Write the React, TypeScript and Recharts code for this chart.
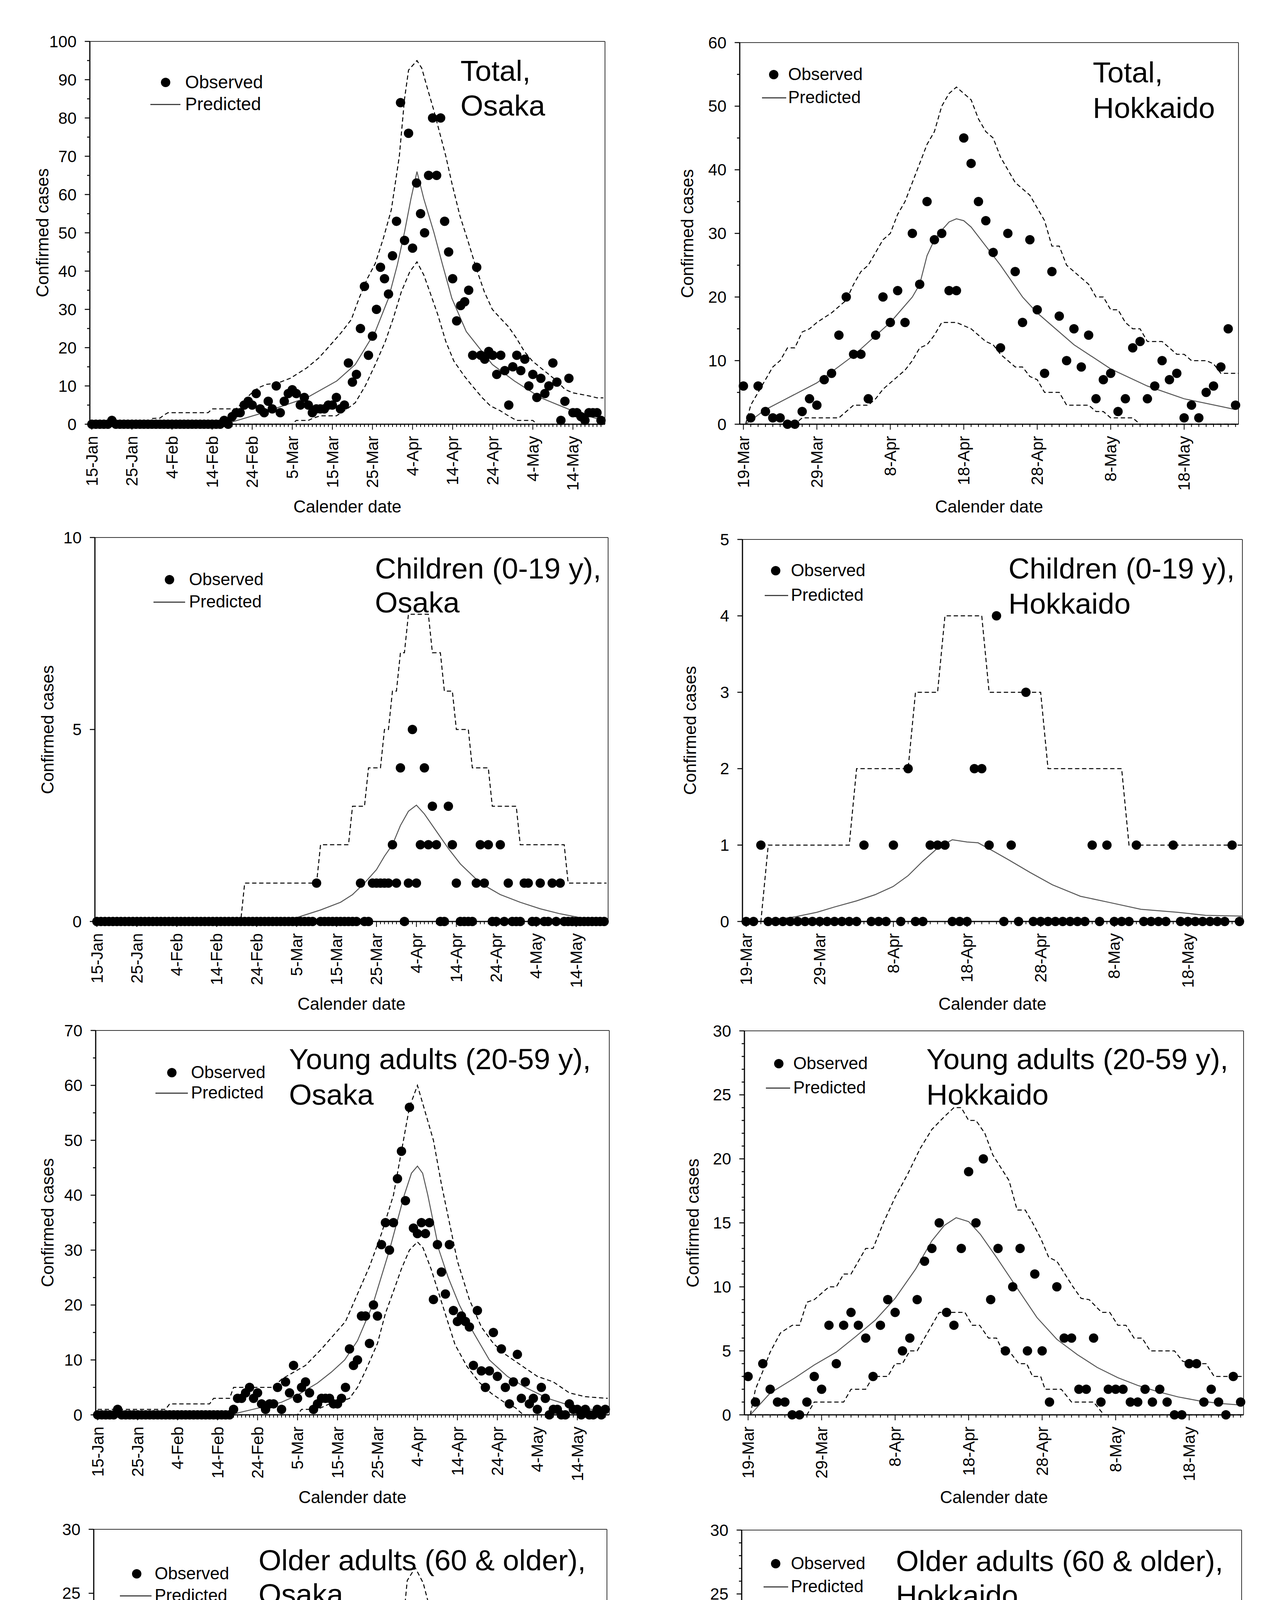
import React from 'react';
import { ComposedChart, Line, Scatter, XAxis, YAxis, ReferenceLine } from 'recharts';

const FONT = '"Liberation Sans", Arial, Helvetica, sans-serif';

type Pt = [number, number];

// ---- tick labels ----
const osakaDates = ['15-Jan', '25-Jan', '4-Feb', '14-Feb', '24-Feb', '5-Mar', '15-Mar', '25-Mar', '4-Apr', '14-Apr', '24-Apr', '4-May', '14-May'];
const hokkaidoDates = ['19-Mar', '29-Mar', '8-Apr', '18-Apr', '28-Apr', '8-May', '18-May'];

// ---- Osaka observed (one value per day from 15-Jan) ----
const osakaTotalObs = [
  0, 0, 0, 0, 0, 1, 0, 0, 0, 0,
  0, 0, 0, 0, 0, 0, 0, 0, 0, 0,
  0, 0, 0, 0, 0, 0, 0, 0, 0, 0,
  0, 0, 0, 1, 0, 2, 3, 3, 5, 6,
  5, 8, 4, 3, 6, 4, 10, 3, 6, 8,
  9, 8, 5, 7, 5, 3, 4, 4, 4, 5,
  5, 7, 4, 5, 16, 11, 13, 25, 36, 18,
  23, 30, 41, 38, 34, 44, 53, 84, 48, 76,
  46, 63, 55, 50, 65, 80, 65, 80, 53, 45,
  38, 27, 31, 32, 35, 18, 41, 18, 17, 19,
  18, 13, 18, 14, 5, 15, 18, 14, 17, 10,
  13, 7, 12, 8, 10, 16, 11, 1, 6, 12,
  3, 3, 2, 1, 3, 3, 3, 1,
];
const osakaChildObs = [
  0, 0, 0, 0, 0, 0, 0, 0, 0, 0,
  0, 0, 0, 0, 0, 0, 0, 0, 0, 0,
  0, 0, 0, 0, 0, 0, 0, 0, 0, 0,
  0, 0, 0, 0, 0, 0, 0, 0, 0, 0,
  0, 0, 0, 0, 0, 0, 0, 0, 0, 0,
  0, 0, 0, 0, 0, 1, 0, 0, 0, 0,
  0, 0, 0, 0, 0, 0, 1, 0, 0, 1,
  1, 1, 1, 1, 2, 1, 4, 0, 1, 5,
  1, 2, 4, 2, 3, 2, 0, 0, 3, 2,
  1, 0, 0, 0, 0, 1, 2, 1, 2, 0,
  0, 2, 0, 1, 0, 0, 0, 1, 1, 0,
  0, 1, 0, 0, 1, 0, 1, 0, 0, 0,
  0, 0, 0, 0, 0, 0, 0, 0,
];
const osakaYoungObs = [
  0, 0, 0, 0, 0, 1, 0, 0, 0, 0,
  0, 0, 0, 0, 0, 0, 0, 0, 0, 0,
  0, 0, 0, 0, 0, 0, 0, 0, 0, 0,
  0, 0, 0, 0, 1, 3, 3, 4, 5, 3,
  4, 2, 1, 2, 2, 5, 1, 6, 4, 9,
  3, 5, 6, 4, 1, 2, 3, 3, 3, 2,
  2, 3, 5, 12, 9, 10, 18, 18, 13, 20,
  18, 31, 35, 30, 35, 43, 48, 39, 56, 34,
  33, 35, 33, 35, 21, 31, 26, 22, 31, 19,
  17, 18, 17, 16, 9, 19, 8, 5, 8, 15,
  7, 12, 5, 2, 6, 11, 3, 6, 2, 3,
  1, 5, 3, 0, 1, 1, 0, 0, 2, 1,
  1, 0, 1, 0, 0, 1, 0, 1,
];
const osakaOldObs = [
  0, 0, 0, 0, 0, 0, 0, 0, 0, 0,
  0, 0, 0, 0, 0, 0, 0, 0, 0, 0,
  0, 0, 0, 0, 0, 0, 0, 0, 0, 0,
  0, 0, 1, 0, 0, 0, 0, 0, 1, 0,
  3, 1, 0, 1, 2, 1, 1, 0, 4, 0,
  5, 0, 1, 1, 2, 1, 1, 1, 2, 2,
  5, 1, 0, 0, 2, 3, 0, 4, 4, 2,
  11, 6, 6, 4, 6, 8, 9, 17, 17, 8,
  18, 14, 8, 18, 13, 19, 19, 8, 8, 9,
  7, 12, 13, 12, 4, 9, 4, 10, 7, 3,
  4, 1, 2, 1, 6, 5, 3, 5, 2, 0,
  0, 2, 0, 1, 1, 0, 1, 0, 4, 1,
  1, 1, 0, 1, 0, 1, 0, 0,
];

// ---- Hokkaido observed (one value per day from 19-Mar) ----
const hokTotalObs = [
  6, 1, 6, 2, 1, 1, 0, 0, 2, 4,
  3, 7, 8, 14, 20, 11, 11, 4, 14, 20,
  16, 21, 16, 30, 22, 35, 29, 30, 21, 21,
  45, 41, 35, 32, 27, 12, 30, 24, 16, 29,
  18, 8, 24, 17, 10, 15, 9, 14, 4, 7,
  8, 2, 4, 12, 13, 4, 6, 10, 7, 8,
  1, 3, 1, 5, 6, 9, 15, 3,
];
const hokChildObs = [
  0, 0, 1, 0, 0, 0, 0, 0, 0, 0,
  0, 0, 0, 0, 0, 0, 1, 0, 0, 0,
  1, 0, 2, 0, 0, 1, 1, 1, 0, 0,
  0, 2, 2, 1, 4, 0, 1, 0, 3, 0,
  0, 0, 0, 0, 0, 0, 0, 1, 0, 1,
  0, 0, 0, 1, 0, 0, 0, 0, 1, 0,
  0, 0, 0, 0, 0, 0, 1, 0,
];
const hokYoungObs = [
  3, 1, 4, 2, 1, 1, 0, 0, 1, 3,
  2, 7, 4, 7, 8, 7, 6, 3, 7, 9,
  8, 5, 6, 9, 12, 13, 15, 8, 7, 13,
  19, 15, 20, 9, 13, 5, 10, 13, 5, 11,
  5, 1, 10, 6, 6, 2, 2, 6, 1, 2,
  2, 2, 1, 1, 2, 1, 2, 1, 0, 0,
  4, 4, 1, 2, 1, 0, 3, 1,
];
const hokOldObs = [
  3, 0, 1, 0, 0, 0, 0, 0, 1, 1,
  1, 0, 4, 4, 3, 4, 1, 0, 5, 6,
  3, 5, 4, 12, 6, 18, 11, 17, 13, 6,
  14, 5, 8, 11, 8, 7, 14, 8, 8, 18,
  13, 7, 10, 11, 4, 10, 7, 7, 3, 3,
  3, 0, 1, 5, 1, 3, 1, 2, 1, 2,
  1, 1, 1, 2, 7, 1, 2, 1,
];

// ---- predicted and bounds: [day, value] ----
const osakaTotalPred: Pt[] = [[33, 0], [41.5, 2.6], [53.6, 6.9], [61.1, 11.3], [65.7, 15.6], [70.7, 24.2], [74, 32.9], [76.2, 41.6], [78, 50.2], [79.6, 58.9], [81.1, 66], [82.8, 58.9], [85.3, 50.2], [87.5, 41.6], [89.8, 32.9], [93.4, 24.2], [99.9, 15.6], [105.4, 11.3], [112, 6.9], [122, 2.6], [127, 1.2]];
const osakaTotalUpper: Pt[] = [[0, 0], [14, 0], [15, 1.5], [17, 1.6], [18, 2.4], [19, 3], [29, 3], [30, 4], [36, 4], [37.5, 5.6], [39.5, 7.8], [41.5, 9.5], [43.5, 10.4], [46.5, 10.8], [49.5, 12], [53.6, 14.7], [56.6, 17.3], [59.6, 20.8], [62.1, 23.8], [64.7, 27.3], [66.7, 33], [68.7, 38], [70.7, 42], [72.7, 48.5], [74.7, 56], [76.7, 70], [78, 85], [79, 92.5], [81.1, 95], [82.3, 93], [83.8, 87.4], [85.3, 82], [86.8, 76], [88.3, 70], [89.8, 63], [91.8, 54.5], [93.9, 47.6], [95.9, 40.7], [97.9, 34.6], [99.9, 30], [101.9, 27.7], [103.9, 25.5], [105.9, 22.5], [107.9, 19], [109.9, 16.5], [112, 14.7], [114, 13], [116, 11.3], [118, 9.1], [120, 8.2], [122, 7.8], [124, 7.4], [126, 6.9], [127.6, 6.9]];
const osakaTotalLower: Pt[] = [[0, 0], [50, 0], [51, 1], [54, 1], [55, 1.5], [57, 2.2], [61, 2.2], [63, 3.5], [65.7, 5.6], [68.2, 10], [70.7, 15.6], [73.2, 21.6], [75.2, 27.7], [77.2, 34.6], [79.3, 39.8], [81.1, 42.4], [82.8, 39], [84.3, 34.6], [86.3, 28.6], [88.3, 21.6], [90.3, 16.5], [92.9, 12.6], [94.9, 10], [97.4, 6.9], [99.4, 4.8], [101.9, 3.5], [103.9, 2.2], [105.9, 1], [110, 1], [111, 0], [127.6, 0]];

const osakaChildPred: Pt[] = [[45, 0], [50, 0.1], [56, 0.3], [61, 0.5], [64, 0.7], [67, 1.0], [70, 1.35], [72, 1.7], [74, 2.0], [76, 2.5], [78, 2.87], [80, 3.03], [82, 2.8], [85, 2.35], [88, 1.9], [91, 1.5], [96, 1.0], [101, 0.7], [106, 0.5], [111, 0.33], [116, 0.2], [121, 0.1], [127, 0.05]];
const osakaChildUpper: Pt[] = [[0, 0], [36, 0], [37, 1], [55, 1], [56, 2], [63, 2], [64, 3], [67, 3], [68, 4], [71, 4], [72, 5], [73, 5], [74, 6], [75, 6], [76, 7], [77, 7], [78, 8], [83, 8], [84, 7], [86, 7], [87, 6], [89, 6], [90, 5], [93, 5], [94, 4], [98, 4], [99, 3], [105, 3], [106, 2], [117, 2], [118, 1], [127.6, 1]];

const osakaYoungPred: Pt[] = [[33, 0], [40, 1.2], [46, 2.3], [50, 3.6], [55, 5.8], [58.5, 7.8], [61.8, 10], [65, 13.5], [68.8, 20], [73, 30], [76.7, 40], [78.5, 44], [80, 45.3], [81.3, 44], [82.6, 40], [85.4, 30], [87.7, 25], [90.5, 20], [94, 15], [98, 10], [102.5, 7], [107, 5], [112.6, 3], [118.6, 1.6], [126, 0.7]];
const osakaYoungUpper: Pt[] = [[0, 1], [17, 1], [18, 2], [28, 2], [29, 3], [33, 3], [34, 5], [44, 5], [46, 6.5], [52, 9], [56, 12], [62, 17], [65, 22], [68, 27], [71, 33], [74, 40], [76, 48], [78, 56], [80, 60], [82, 55], [84, 50], [86, 42], [88, 35], [90, 28], [93, 21], [96, 16], [99, 13], [102, 11], [106, 9], [110, 7], [114, 6], [118, 4], [122, 3.3], [127.6, 3]];
const osakaYoungLower: Pt[] = [[0, 0], [50, 0], [51, 1], [55, 1], [58, 2], [61, 2.5], [63, 3], [65, 5], [67, 8], [70, 13], [72, 18.5], [74, 22.5], [76, 26.6], [78, 30], [80, 31.5], [81.4, 30.4], [83.4, 26.6], [85.4, 22], [87.4, 17.4], [89.4, 12.8], [92.4, 8.8], [95.5, 5.9], [98.5, 3.9], [101.5, 2.4], [104.5, 1.3], [106.5, 0], [127.6, 0]];

const osakaOldPred: Pt[] = [[33, 0], [41, 0.2], [47, 0.6], [53, 1.3], [57, 2.1], [60, 2.8], [64, 4.1], [67, 5.6], [71, 8.8], [74, 11.9], [77, 15.4], [79, 17.1], [80, 17.6], [82, 16.8], [84, 15.1], [87, 11.9], [90, 9.1], [93, 6.8], [97, 4.5], [101, 3.1], [105, 2.1], [109, 1.4], [113, 1.0], [118, 0.7], [127, 0.5]];
const osakaOldUpper: Pt[] = [[0, 0], [13, 0], [14, 1], [15, 0], [16, 1], [34, 1], [36, 2], [42, 2], [44, 3], [51, 3], [52, 4], [55, 4], [56, 5], [57, 5], [58, 6], [61, 6], [62, 7], [63, 9], [65, 9], [67, 9], [69, 11.4], [71, 14], [73, 16], [75, 19.4], [77, 22.8], [78, 26], [80, 27], [82, 25.8], [84, 23.4], [86, 21], [88, 18.8], [91, 15.9], [93, 14.5], [96, 11.9], [99, 9.9], [102, 8.8], [104, 7.9], [106, 6.9], [108, 5.9], [111, 4.9], [114, 4.9], [116, 4], [118, 3.8], [120, 3], [127.6, 3]];
const osakaOldLower: Pt[] = [[0, 0], [63, 0], [64, 1], [66, 1], [67, 2], [68, 2], [69, 3], [70, 3], [73, 4.9], [75, 6.8], [77, 8.5], [80, 10], [81, 9], [83, 9], [85, 7.6], [87, 6], [89, 6], [91, 5], [93, 4], [95, 3], [97, 2], [99, 1], [102, 1], [103, 0], [127.6, 0]];

const hokTotalPred: Pt[] = [[0.3, 0], [3, 2.3], [10, 6.5], [15, 10.8], [20, 16], [23, 20], [24, 22], [25, 26.5], [26, 29], [27, 30.5], [28, 31.8], [29, 32.3], [30, 32], [31, 31], [33, 28], [35, 25], [38, 20], [40, 17.5], [45, 12.5], [50, 8.7], [55, 6], [60, 4], [65, 2.8], [67, 2.3]];
const hokTotalUpper: Pt[] = [[0.3, 0], [1, 3], [3, 7], [4, 9], [5, 10], [6, 12], [7, 12], [8, 14.5], [9, 15], [10, 16], [12, 17.5], [14, 19.5], [15, 22], [16, 24], [17, 25], [18, 27], [19, 29], [20, 30], [21, 33], [22, 35], [23, 38], [24, 41], [25, 44], [26, 46], [27, 50], [28, 52], [29, 53], [30, 52], [31, 51], [32, 48], [33, 46], [34, 45], [35, 42], [36, 40], [37, 38], [38, 37], [39, 36], [40, 34], [41, 32], [42, 28], [43, 28], [44, 25], [45, 24], [46, 23], [47, 22], [48, 20], [49, 20], [50, 18], [51, 18], [52, 16], [53, 15], [54, 15], [55, 13], [57, 13], [58, 12], [59, 11], [60, 11], [61, 10], [63, 10], [64, 9.5], [65, 8], [67.4, 8]];
const hokTotalLower: Pt[] = [[1, 0], [7, 0], [8, 1], [13, 1], [14, 2], [15, 3], [17, 3], [18, 4], [19, 5.5], [20, 6.5], [21, 7.5], [22, 8.5], [23, 10], [24, 12], [25, 12.5], [26, 14], [27, 16], [29, 16], [30, 15.5], [31, 15], [32, 14], [33, 13], [34, 12.5], [35, 11], [36, 10], [37, 9], [38, 9], [39, 7.5], [40, 7], [41, 5], [43, 5], [44, 3], [47, 3], [48, 2], [49, 2], [50, 1], [53, 1], [54, 0], [67.4, 0]];

const hokChildPred: Pt[] = [[2, 0], [6.6, 0.06], [9.6, 0.12], [12, 0.19], [15, 0.27], [17.5, 0.35], [20, 0.46], [22, 0.6], [24, 0.79], [26, 0.96], [28, 1.07], [30, 1.04], [31.5, 1.03], [33.4, 0.93], [35.6, 0.81], [38.6, 0.64], [41.6, 0.48], [45.4, 0.33], [49.3, 0.25], [53.6, 0.16], [58.6, 0.12], [62.4, 0.08], [67.4, 0.07]];
const hokChildUpper: Pt[] = [[0, 0], [2, 0], [3, 1], [14, 1], [15, 2], [22, 2], [23, 3], [26, 3], [27, 4], [32, 4], [33, 3], [40, 3], [41, 2], [51, 2], [52, 1], [67.4, 1]];

const hokYoungPred: Pt[] = [[0.3, 0], [3, 1.7], [6.4, 2.9], [9, 3.9], [12, 4.9], [14.6, 6.1], [17.3, 7.4], [20, 9.1], [22.8, 11.4], [25, 13.6], [26.7, 14.8], [28.3, 15.4], [30, 15.1], [31.6, 14.1], [33.8, 12.3], [36.6, 9.9], [39.3, 7.6], [42, 5.9], [44.8, 4.7], [47.5, 3.7], [50.3, 2.9], [53, 2.3], [55.8, 1.8], [58.5, 1.4], [61.3, 1.1], [64, 0.9], [67.4, 0.75]];
const hokYoungUpper: Pt[] = [[0.3, 0], [1, 2], [2, 3.4], [3, 4.9], [4.4, 6.4], [6, 7], [7, 7], [8, 8.8], [9, 9], [11, 10], [12, 10], [13, 11], [14, 11], [15, 12], [16, 13], [17, 13], [18.4, 15], [20, 17], [21.7, 18.8], [23.4, 20.8], [25, 22.3], [26.7, 23.3], [28, 24], [29, 24], [30, 23], [31, 23], [32.2, 22], [33.3, 20.3], [34.4, 19.3], [35.5, 18.3], [36.6, 16], [37.7, 16], [38.7, 15], [39.8, 13.8], [40.9, 12.3], [42, 12], [43.1, 11], [44.2, 10], [45.3, 9.1], [46.4, 9], [48.1, 8], [49.2, 8], [50.3, 7], [51.4, 7], [52.5, 6], [53.6, 6], [54.7, 5], [58, 5], [59.1, 4.2], [60.2, 4], [62.3, 4], [63.4, 3], [67.4, 3]];
const hokYoungLower: Pt[] = [[0.3, 0], [8, 0], [9, 1], [13, 1], [14, 2], [16, 2], [17, 3], [19, 3], [20, 4], [21, 4], [22, 5], [23, 5], [24, 6], [25, 7], [26, 8], [29.5, 8], [30.5, 7], [31.5, 7], [32.7, 6], [33.8, 6], [34.6, 5], [35.5, 5], [36.8, 4], [37.9, 4], [38.7, 3], [39.8, 3], [40.4, 2], [42.6, 2], [44, 1], [47, 1], [48.4, 0], [67.4, 0]];

const hokOldPred: Pt[] = [[0.6, 0], [4, 0.6], [6.7, 1.2], [9.4, 1.8], [12.2, 2.6], [13.8, 3.2], [16, 4.2], [18.2, 5.5], [20.4, 7.4], [22.6, 9.7], [24.3, 12], [25.9, 13.7], [27.6, 15.2], [28.9, 15.8], [30.8, 15.4], [32.5, 14.4], [34.1, 13.1], [36.9, 10.8], [39.6, 8.8], [42.4, 7.1], [45.1, 5.6], [47.9, 4.6], [50.6, 3.8], [53.3, 3.1], [56.1, 2.4], [58.8, 2.0], [61.6, 1.6], [64.3, 1.35], [67.4, 1.1]];
const hokOldUpper: Pt[] = [[0.4, 0], [1.5, 1.9], [2.3, 2], [3.4, 3], [4.5, 3], [5.6, 4], [6.7, 4], [7.8, 5], [8.9, 5], [10, 6], [11.1, 6], [12.2, 7], [13.3, 7], [14.4, 8], [15.5, 8], [16.6, 10], [17.7, 11], [18.8, 12], [19.9, 12], [21, 14.8], [22.6, 17.1], [23.7, 19.1], [24.8, 20.5], [25.9, 22], [27, 23.2], [28.1, 24.1], [29.2, 24.6], [30.3, 24.1], [31.4, 23.1], [32.5, 23], [33.6, 22], [34.7, 20.8], [35.8, 19.7], [36.9, 18.8], [38, 18], [39.1, 16.8], [40.2, 16], [41.3, 15], [42.4, 14], [43.5, 14], [44.6, 13], [45.7, 12], [46.8, 12], [47.9, 11], [49, 10], [50, 10], [51.2, 9], [52.3, 8], [53.4, 8], [54.4, 7], [56.1, 7], [57.2, 6], [58.8, 6], [59.9, 5], [63.2, 5], [64.3, 4], [67.4, 4]];
const hokOldLower: Pt[] = [[0.4, 0], [14, 0], [15, 1], [16, 1], [17.5, 2], [18.8, 2], [19.9, 3], [21, 3], [22, 4], [23, 5], [24.8, 6], [26.5, 6], [27.3, 7], [28, 8], [31, 8], [32, 7], [34, 7], [35, 6], [36.6, 6], [37.5, 5], [39, 5], [40, 4], [41, 4], [42, 3], [43.5, 3], [44, 2], [46.8, 2], [48, 1], [51.5, 1], [53, 0], [67.4, 0]];

// ---- layout ----
interface Legend { dotX: number; obsY: number; textX: number; predY: number; lineX1: number; lineX2: number; fs: number }
interface PanelDef {
  box: [number, number, number, number];
  osaka: boolean;
  yMax: number; yStep: number; yMinor: number;
  obs: number[]; pred: Pt[]; upper: Pt[]; lower?: Pt[];
  title: string[]; titleX: number; titleY: number[];
  legend: Legend; yTitleDx: number;
}

const panels: PanelDef[] = [
  { box: [230, 106, 1549, 1086], osaka: true, yMax: 100, yStep: 10, yMinor: 5, obs: osakaTotalObs, pred: osakaTotalPred, upper: osakaTotalUpper, lower: osakaTotalLower, title: ['Total,', 'Osaka'], titleX: 1179, titleY: [181, 270], legend: { dotX: 424, obsY: 211, textX: 474, predY: 267, lineX1: 385, lineX2: 462, fs: 46 }, yTitleDx: -121 },
  { box: [1894, 109, 3171, 1086], osaka: false, yMax: 60, yStep: 10, yMinor: 5, obs: hokTotalObs, pred: hokTotalPred, upper: hokTotalUpper, lower: hokTotalLower, title: ['Total,', 'Hokkaido'], titleX: 2798, titleY: [185, 276], legend: { dotX: 1981, obsY: 191, textX: 2018, predY: 250, lineX1: 1951, lineX2: 2013, fs: 44 }, yTitleDx: -134 },
  { box: [243, 1376, 1557, 2359], osaka: true, yMax: 10, yStep: 5, yMinor: 5, obs: osakaChildObs, pred: osakaChildPred, upper: osakaChildUpper, title: ['Children (0-19 y),', 'Osaka'], titleX: 960, titleY: [1455, 1542], legend: { dotX: 434, obsY: 1484, textX: 484, predY: 1541, lineX1: 393, lineX2: 474, fs: 44 }, yTitleDx: -121 },
  { box: [1901, 1381, 3181, 2359], osaka: false, yMax: 5, yStep: 1, yMinor: 1, obs: hokChildObs, pred: hokChildPred, upper: hokChildUpper, title: ['Children (0-19 y),', 'Hokkaido'], titleX: 2582, titleY: [1455, 1545], legend: { dotX: 1986, obsY: 1461, textX: 2025, predY: 1524, lineX1: 1958, lineX2: 2018, fs: 44 }, yTitleDx: -134 },
  { box: [245, 2638, 1560, 3622], osaka: true, yMax: 70, yStep: 10, yMinor: 5, obs: osakaYoungObs, pred: osakaYoungPred, upper: osakaYoungUpper, lower: osakaYoungLower, title: ['Young adults (20-59 y),', 'Osaka'], titleX: 740, titleY: [2711, 2802], legend: { dotX: 440, obsY: 2746, textX: 489, predY: 2798, lineX1: 398, lineX2: 481, fs: 44 }, yTitleDx: -123 },
  { box: [1906, 2639, 3184, 3622], osaka: false, yMax: 30, yStep: 5, yMinor: 1, obs: hokYoungObs, pred: hokYoungPred, upper: hokYoungUpper, lower: hokYoungLower, title: ['Young adults (20-59 y),', 'Hokkaido'], titleX: 2372, titleY: [2711, 2802], legend: { dotX: 1994, obsY: 2723, textX: 2031, predY: 2785, lineX1: 1961, lineX2: 2023, fs: 44 }, yTitleDx: -132 },
  { box: [240, 3915, 1554, 4898], osaka: true, yMax: 30, yStep: 5, yMinor: 5, obs: osakaOldObs, pred: osakaOldPred, upper: osakaOldUpper, lower: osakaOldLower, title: ['Older adults (60 & older),', 'Osaka'], titleX: 662, titleY: [3994, 4081], legend: { dotX: 350, obsY: 4029, textX: 396, predY: 4085, lineX1: 307, lineX2: 388, fs: 44 }, yTitleDx: -123 },
  { box: [1899, 3917, 3179, 4898], osaka: false, yMax: 30, yStep: 5, yMinor: 1, obs: hokOldObs, pred: hokOldPred, upper: hokOldUpper, lower: hokOldLower, title: ['Older adults (60 & older),', 'Hokkaido'], titleX: 2294, titleY: [3996, 4084], legend: { dotX: 1986, obsY: 4003, textX: 2025, predY: 4062, lineX1: 1955, lineX2: 2018, fs: 44 }, yTitleDx: -148 },
];

const AXW = 220;   // y-axis area width
const PT = 30;     // space above plot
const PR = 30;     // space right of plot
const XAH = 300;   // x-axis area height
const DOT_R = 12;

const txt = (fs: number): React.CSSProperties => ({
  position: 'absolute', fontFamily: FONT, fontSize: fs, lineHeight: `${fs}px`, whiteSpace: 'nowrap', color: '#000',
});

function Panel({ p }: { p: PanelDef }) {
  const [l, t, r, b] = p.box;
  const pw = r - l;
  const ph = b - t;
  const xDomain: [number, number] = p.osaka ? [-0.5, 128] : [-0.5, 67.4];
  const labels = p.osaka ? osakaDates : hokkaidoDates;
  const xTicks = p.obs.map((_, i) => i);
  const yTicks: number[] = [];
  for (let v = 0; v <= p.yMax + 1e-9; v += p.yMinor) yTicks.push(Math.round(v * 1000) / 1000);

  const obsData = p.obs.map((v, d) => ({ d, v }));
  const toData = (a: Pt[]) => a.map(([d, v]) => ({ d, v }));

  const xTick = (props: any) => {
    const { x, y, payload } = props;
    const d = payload.value as number;
    const major = d % 10 === 0;
    const lab = major ? labels[d / 10] : undefined;
    return (
      <g>
        <line x1={x} x2={x} y1={y} y2={y + (major ? 14 : 7)} stroke="#000" strokeWidth={2} />
        {lab && (
          <text x={x} y={y + 30} transform={`rotate(-90 ${x} ${y + 30})`} textAnchor="end" dominantBaseline="central"
            fontSize={42} fontFamily={FONT} fill="#000">{lab}</text>
        )}
      </g>
    );
  };

  const yTick = (props: any) => {
    const { x, y, payload } = props;
    const v = payload.value as number;
    const q = v / p.yStep;
    const major = Math.abs(q - Math.round(q)) < 1e-6;
    return (
      <g>
        <line x1={x} x2={x - (major ? 13 : 7)} y1={y} y2={y} stroke="#000" strokeWidth={2.5} />
        {major && (
          <text x={x - 34} y={y} textAnchor="end" dominantBaseline="central" fontSize={42} fontFamily={FONT} fill="#000">{v}</text>
        )}
      </g>
    );
  };

  const dot = (props: any) => <circle cx={props.cx} cy={props.cy} r={DOT_R} fill="#000" />;
  const lg = p.legend;

  return (
    <>
      <div style={{ position: 'absolute', left: l - AXW, top: t - PT }}>
        <ComposedChart width={pw + AXW + PR} height={ph + PT + XAH} data={obsData}
          margin={{ top: PT, right: PR, bottom: 0, left: 0 }}>
          <XAxis type="number" dataKey="d" domain={xDomain} ticks={xTicks} interval={0} tick={xTick}
            tickLine={false} tickSize={0} tickMargin={0} height={XAH} axisLine={{ stroke: '#000', strokeWidth: 3 }} />
          <YAxis type="number" domain={[0, p.yMax]} ticks={yTicks} interval={0} tick={yTick}
            tickLine={false} tickSize={0} tickMargin={0} width={AXW} axisLine={{ stroke: '#000', strokeWidth: 3 }} />
          <ReferenceLine y={p.yMax} stroke="#333" strokeWidth={2} />
          <ReferenceLine x={xDomain[1]} stroke="#333" strokeWidth={2} />
          <Line data={toData(p.upper)} dataKey="v" type="linear" stroke="#000" strokeWidth={2.5}
            strokeDasharray="11 7" dot={false} isAnimationActive={false} />
          {p.lower && (
            <Line data={toData(p.lower)} dataKey="v" type="linear" stroke="#000" strokeWidth={2.5}
              strokeDasharray="11 7" dot={false} isAnimationActive={false} />
          )}
          <Line data={toData(p.pred)} dataKey="v" type="linear" stroke="#555" strokeWidth={2.5}
            dot={false} isAnimationActive={false} />
          <Scatter data={obsData} dataKey="v" shape={dot} isAnimationActive={false} />
        </ComposedChart>
      </div>

      {/* axis titles */}
      <div style={{ ...txt(44), left: l + p.yTitleDx, top: (t + b) / 2, transform: 'translate(-50%, -50%) rotate(-90deg)' }}>
        Confirmed cases
      </div>
      <div style={{ ...txt(44), left: (l + r) / 2, top: b + 211, transform: 'translate(-50%, -50%)' }}>
        Calender date
      </div>

      {/* panel title */}
      {p.title.map((s, i) => (
        <div key={i} style={{ ...txt(75), left: p.titleX, top: p.titleY[i] - 37 }}>{s}</div>
      ))}

      {/* legend */}
      <div style={{ position: 'absolute', left: lg.dotX - DOT_R, top: lg.obsY - DOT_R, width: DOT_R * 2, height: DOT_R * 2, borderRadius: '50%', background: '#000' }} />
      <div style={{ ...txt(lg.fs), left: lg.textX, top: lg.obsY - lg.fs * 0.52 }}>Observed</div>
      <div style={{ position: 'absolute', left: lg.lineX1, top: lg.predY - 1, width: lg.lineX2 - lg.lineX1, height: 2.5, background: '#444' }} />
      <div style={{ ...txt(lg.fs), left: lg.textX, top: lg.predY - lg.fs * 0.52 }}>Predicted</div>
    </>
  );
}

export default function App() {
  const serif: React.CSSProperties = {
    position: 'absolute', fontFamily: '"Liberation Serif", "Times New Roman", serif', fontWeight: 'bold',
    fontSize: 78, lineHeight: '78px', top: 5275 - 40, transform: 'translateX(-50%)', whiteSpace: 'nowrap',
  };
  // in normal flow, cancelling the default 8px body margin
  return (
    <div style={{ position: 'relative', margin: -8, width: 3244, height: 5339, background: '#fff', overflow: 'hidden' }}>
      {panels.map((p, i) => <Panel key={i} p={p} />)}
      <div style={{ ...serif, left: 846 }}>(A)</div>
      <div style={{ ...serif, left: 2491 }}>(B)</div>
    </div>
  );
}
